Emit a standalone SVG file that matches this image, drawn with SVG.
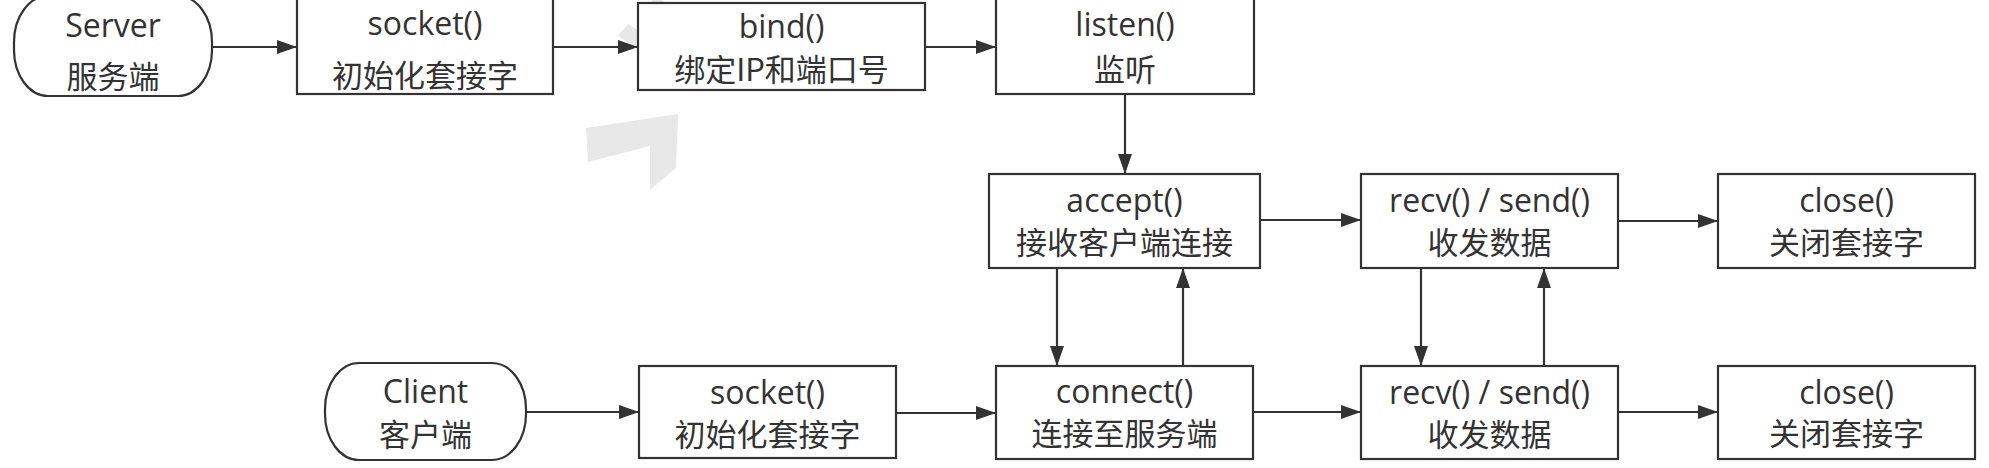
<svg xmlns="http://www.w3.org/2000/svg" width="1989" height="468" viewBox="0 0 1989 468">
<style>
.box{fill:#ffffff;stroke:#333333;stroke-width:2.2}
.t{font-family:"Open Sans","Noto Sans CJK SC",sans-serif;font-size:32px;fill:#333333;text-anchor:middle}
.c{font-family:"Noto Sans CJK SC","Open Sans",sans-serif;font-size:31px;fill:#333333;text-anchor:middle}
.ln{fill:none;stroke:#333333;stroke-width:2.2;marker-end:url(#ah)}
.wm{fill:#e8e8e8;stroke:none}
</style>
<defs>
<marker id="ah" viewBox="0 0 20 14" refX="20" refY="7" markerWidth="20" markerHeight="14" markerUnits="userSpaceOnUse" orient="auto">
<path d="M0,0 L20,7 L0,14 Z" fill="#333333"/>
</marker>
</defs>
<rect width="1989" height="468" fill="#ffffff"/>
<g id="watermark">
<polygon class="wm" points="618,36 628,24 668,50 658,62"/>
<polygon class="wm" points="646,8 656,-4 698,24 688,36"/>
<polygon class="wm" points="586,128 678,114 676,168 650,190 650,146 588,162"/>
</g>
<g id="connectors">
<path class="ln" d="M212,47 L297,47"/>
<path class="ln" d="M553,47 L638,47"/>
<path class="ln" d="M925,47 L996,47"/>
<path class="ln" d="M1125,94 L1125,174"/>
<path class="ln" d="M1260,220 L1361,220"/>
<path class="ln" d="M1618,221 L1718,221"/>
<path class="ln" d="M1057,268 L1057,366"/>
<path class="ln" d="M1183,366 L1183,268"/>
<path class="ln" d="M1421,268 L1421,366"/>
<path class="ln" d="M1544,366 L1544,268"/>
<path class="ln" d="M526,412 L639,412"/>
<path class="ln" d="M896,413 L996,413"/>
<path class="ln" d="M1253,412 L1361,412"/>
<path class="ln" d="M1618,412 L1718,412"/>
</g>
<g id="server">
<rect class="box" x="14" y="-4" width="198" height="100" rx="34" ry="46"/>
<text class="t" x="113" y="37">Server</text>
<text class="c" x="113" y="88">服务端</text>
</g>
<g id="socket-server">
<rect class="box" x="297" y="-4" width="256" height="98"/>
<text class="t" x="425" y="35">socket()</text>
<text class="c" x="425" y="87">初始化套接字</text>
</g>
<g id="bind">
<rect class="box" x="638" y="3" width="287" height="87"/>
<text class="t" x="781.5" y="38">bind()</text>
<text class="c" x="781.5" y="81">绑定IP和端口号</text>
</g>
<g id="listen">
<rect class="box" x="996" y="-4" width="258" height="98"/>
<text class="t" x="1125" y="36">listen()</text>
<text class="c" x="1125" y="81">监听</text>
</g>
<g id="accept">
<rect class="box" x="989" y="174" width="271" height="94"/>
<text class="t" x="1124.5" y="212">accept()</text>
<text class="c" x="1124.5" y="254">接收客户端连接</text>
</g>
<g id="recv-send-server">
<rect class="box" x="1361" y="174" width="257" height="94"/>
<text class="t" x="1489.5" y="212">recv() / send()</text>
<text class="c" x="1489.5" y="254">收发数据</text>
</g>
<g id="close-server">
<rect class="box" x="1718" y="174" width="257" height="94"/>
<text class="t" x="1846.5" y="212">close()</text>
<text class="c" x="1846.5" y="254">关闭套接字</text>
</g>
<g id="client">
<rect class="box" x="325" y="363" width="201" height="97" rx="34" ry="46"/>
<text class="t" x="425.5" y="403">Client</text>
<text class="c" x="425.5" y="446">客户端</text>
</g>
<g id="socket-client">
<rect class="box" x="639" y="366" width="257" height="92"/>
<text class="t" x="767.5" y="404">socket()</text>
<text class="c" x="767.5" y="446">初始化套接字</text>
</g>
<g id="connect">
<rect class="box" x="996" y="366" width="257" height="93"/>
<text class="t" x="1124.5" y="403">connect()</text>
<text class="c" x="1124.5" y="445">连接至服务端</text>
</g>
<g id="recv-send-client">
<rect class="box" x="1361" y="366" width="257" height="93"/>
<text class="t" x="1489.5" y="404">recv() / send()</text>
<text class="c" x="1489.5" y="446">收发数据</text>
</g>
<g id="close-client">
<rect class="box" x="1718" y="366" width="257" height="93"/>
<text class="t" x="1846.5" y="404">close()</text>
<text class="c" x="1846.5" y="445">关闭套接字</text>
</g>
</svg>
